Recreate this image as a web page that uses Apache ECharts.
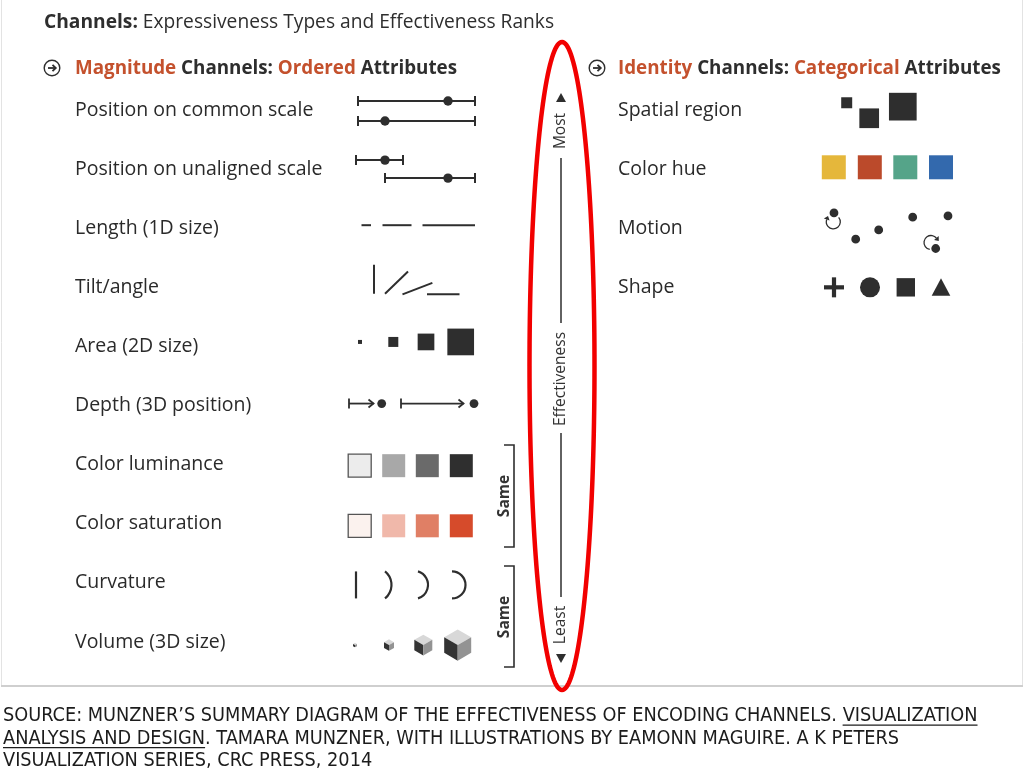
<!DOCTYPE html>
<html>
<head>
<meta charset="utf-8">
<script src="https://cdn.jsdelivr.net/npm/echarts@6/dist/echarts.min.js"></script>
<style>
html, body { margin: 0; padding: 0; background: #fff; }
#chart { width: 1024px; height: 769px; }
</style>
</head>
<body>
<div id="chart"></div>
<script>
// channel names (row labels)
var magnitudeChannels = ['Position on common scale', 'Position on unaligned scale', 'Length (1D size)',
  'Tilt/angle', 'Area (2D size)', 'Depth (3D position)', 'Color luminance', 'Color saturation',
  'Curvature', 'Volume (3D size)'];
var identityChannels = ['Spatial region', 'Color hue', 'Motion', 'Shape'];

// glyph values: [x, row, dy, ...]
var scaleBars = [[13, 0, -9, 130, 103], [13, 0, 11, 130, 40], [11, 1, -9, 58, 40], [40, 1, 9, 130, 103]];
var lengthBars = [[16.5, 2, -3, 26], [37.5, 2, -3, 66.5], [77.5, 2, -3, 130]];
var tiltLines = [[29, 3, 6.5, 90, 29], [40, 3, 6.5, 44, 32], [57.5, 3, 7, 21, 32], [82, 3, 7, 0, 32.5]];
var areaSquares = [[15, 4, -4.5, 4], [48.3, 4, -4.5, 10], [81, 4, -4.5, 16.7], [115.7, 4, -4.5, 26.7]];
var depthArrows = [[4, 5, -2, 28.5, 36.7], [56, 5, -2, 118.5, 129]];
var lumColors = ['#ececec', '#a8a8a8', '#6a6a6a', '#2f2f2f'];
var satColors = ['#fbf2ee', '#f0b8aa', '#e07f65', '#d64b2b'];
var rampSquares = [[14.7, 6, 1, 23, 0], [48.7, 6, 1, 23, 1], [82.3, 6, 1, 23, 2], [116.3, 6, 1, 23, 3],
  [14.7, 7, 2, 23, 0], [48.7, 7, 2, 23, 1], [82.3, 7, 2, 23, 2], [116.3, 7, 2, 23, 3]];
var curveMarks = [[11, 8, 2, 0, 27], [40, 8, 2, 6.5, 27], [73, 8, 2, 10, 27], [107, 8, 2, 13.5, 27]];
var volumeCubes = [[10, 9, 3, 4], [44, 9, 3, 10], [78.3, 9, 3, 18], [112.7, 9, 3, 27]];

var regionSquares = [[31.7, 0, -7.2, 11], [54.2, 0, 8.3, 19.7], [87.8, 0, -3.3, 27.7]];
var hueColors = ['#e5b73b', '#bb4a2b', '#55a489', '#3369ad'];
var hueSquares = [[18.8, 1, -1.8, 24, 0], [54.8, 1, -1.8, 24, 1], [90.3, 1, -1.8, 24, 2], [126, 1, -1.8, 24, 3]];
var motionDots = [[19, 2, -15.3], [40.7, 2, 11], [63.7, 2, 1.7], [97.7, 2, -11], [133, 2, -12.3], [120.7, 2, 20.3]];
var motionSpins = [[18.3, 2, -6.3, 7, -40, 200], [116, 2, 14.3, 7, 100, 320]];
var shapeMarks = [[19, 3, 0, 0], [55, 3, 0, 1], [90.8, 3, 0, 2], [126, 3, 0, 3]];

var captionLines = [
  ['SOURCE: MUNZNER\u2019S SUMMARY DIAGRAM OF THE EFFECTIVENESS OF ENCODING CHANNELS. ', 'VISUALIZATION', ''],
  ['', 'ANALYSIS AND DESIGN', '. TAMARA MUNZNER, WITH ILLUSTRATIONS BY EAMONN MAGUIRE. A K PETERS'],
  ['VISUALIZATION SERIES, CRC PRESS, 2014', '', '']
];

var FONT = '"Open Sans", "Noto Sans", sans-serif';
var CAPTION_FONT = '"Liberation Sans Narrow", "DejaVu Sans Condensed", sans-serif';
var INK = '#2e2e2e';
var ORANGE = '#c4512d';

var chart = echarts.init(document.getElementById('chart'));

function pt(api, x, row, dy) {
  var p = api.coord([x, row]);
  var k = api.size([1, 0])[0];
  return [p[0], p[1] + dy * k];
}
function unit(api) { return api.size([1, 0])[0]; }
function line(x1, y1, x2, y2, w) {
  return { type: 'line', shape: { x1: x1, y1: y1, x2: x2, y2: y2 }, style: { stroke: INK, lineWidth: w || 2 } };
}

function renderScale(params, api) {
  var k = unit(api);
  var a = pt(api, api.value(0), api.value(1), api.value(2));
  var b = pt(api, api.value(3), api.value(1), api.value(2));
  var d = pt(api, api.value(4), api.value(1), api.value(2));
  return { type: 'group', children: [
    line(a[0], a[1], b[0], b[1]),
    line(a[0], a[1] - 5 * k, a[0], a[1] + 5 * k),
    line(b[0], b[1] - 5 * k, b[0], b[1] + 5 * k),
    { type: 'circle', shape: { cx: d[0], cy: d[1], r: 4.7 * k }, style: { fill: INK } }
  ] };
}
function renderLength(params, api) {
  var a = pt(api, api.value(0), api.value(1), api.value(2));
  var b = pt(api, api.value(3), api.value(1), api.value(2));
  return line(a[0], a[1], b[0], b[1]);
}
function renderTilt(params, api) {
  var k = unit(api);
  var a = pt(api, api.value(0), api.value(1), api.value(2));
  var ang = api.value(3) * Math.PI / 180, len = api.value(4) * k;
  return line(a[0], a[1], a[0] + Math.cos(ang) * len, a[1] - Math.sin(ang) * len);
}
function renderSquare(params, api) {
  var k = unit(api);
  var c = pt(api, api.value(0), api.value(1), api.value(2));
  var s = api.value(3) * k;
  return { type: 'rect', shape: { x: c[0] - s / 2, y: c[1] - s / 2, width: s, height: s }, style: { fill: INK } };
}
function renderDepth(params, api) {
  var k = unit(api);
  var a = pt(api, api.value(0), api.value(1), api.value(2));
  var b = pt(api, api.value(3), api.value(1), api.value(2));
  var d = pt(api, api.value(4), api.value(1), api.value(2));
  return { type: 'group', children: [
    line(a[0], a[1], b[0], b[1], 1.8),
    line(a[0], a[1] - 5 * k, a[0], a[1] + 5 * k, 1.8),
    { type: 'polyline', shape: { points: [[b[0] - 5 * k, b[1] - 4 * k], [b[0], b[1]], [b[0] - 5 * k, b[1] + 4 * k]] },
      style: { stroke: INK, lineWidth: 1.8, fill: null } },
    { type: 'circle', shape: { cx: d[0], cy: d[1], r: 4.4 * k }, style: { fill: INK } }
  ] };
}
function rampRender(colors, bordered) {
  return function (params, api) {
    var k = unit(api);
    var c = pt(api, api.value(0), api.value(1), api.value(2));
    var s = api.value(3) * k;
    var ci = api.value(4);
    return { type: 'rect', shape: { x: c[0] - s / 2, y: c[1] - s / 2, width: s, height: s },
      style: { fill: colors[ci], stroke: (bordered && ci === 0) ? '#555' : null, lineWidth: 1.3 } };
  };
}
function renderCurve(params, api) {
  var k = unit(api);
  var c = pt(api, api.value(0), api.value(1), api.value(2));
  var sag = api.value(3) * k, chord = api.value(4) * k;
  if (sag === 0) return line(c[0], c[1] - chord / 2, c[0], c[1] + chord / 2, 2.2);
  var R = (chord * chord / 4 + sag * sag) / (2 * sag);
  var th = Math.asin(Math.min(1, chord / 2 / R));
  return { type: 'arc', shape: { cx: c[0] + sag - R, cy: c[1], r: R, startAngle: -th, endAngle: th, clockwise: true },
    style: { stroke: INK, lineWidth: 2.2, fill: null } };
}
function renderCube(params, api) {
  var k = unit(api);
  var c = pt(api, api.value(0), api.value(1), api.value(2));
  var hw = api.value(3) * k / 2, s = hw / 0.866;
  var T = [c[0], c[1] - s], UR = [c[0] + hw, c[1] - s / 2], LR = [c[0] + hw, c[1] + s / 2],
    B = [c[0], c[1] + s], LL = [c[0] - hw, c[1] + s / 2], UL = [c[0] - hw, c[1] - s / 2], C = [c[0], c[1]];
  return { type: 'group', children: [
    { type: 'polygon', shape: { points: [T, UR, C, UL] }, style: { fill: '#d8d8d8' } },
    { type: 'polygon', shape: { points: [UL, C, B, LL] }, style: { fill: '#333333' } },
    { type: 'polygon', shape: { points: [C, UR, LR, B] }, style: { fill: '#939393' } }
  ] };
}
function renderDot(params, api) {
  var k = unit(api);
  var c = pt(api, api.value(0), api.value(1), api.value(2));
  return { type: 'circle', shape: { cx: c[0], cy: c[1], r: 4.4 * k }, style: { fill: INK } };
}
function renderSpin(params, api) {
  var k = unit(api);
  var c = pt(api, api.value(0), api.value(1), api.value(2));
  var r = api.value(3) * k;
  var a0 = api.value(4) * Math.PI / 180, a1 = api.value(5) * Math.PI / 180;
  var ex = c[0] + Math.cos(a1) * r, ey = c[1] + Math.sin(a1) * r;
  var tx = -Math.sin(a1), ty = Math.cos(a1);      // tangent, clockwise on screen
  var nx = Math.cos(a1), ny = Math.sin(a1);
  var h = 3.8 * k;
  return { type: 'group', children: [
    { type: 'arc', shape: { cx: c[0], cy: c[1], r: r, startAngle: a0, endAngle: a1, clockwise: true },
      style: { stroke: INK, lineWidth: 1.3, fill: null } },
    { type: 'polygon', shape: { points: [[ex + tx * h, ey + ty * h], [ex + nx * h * 0.8, ey + ny * h * 0.8], [ex - nx * h * 0.8, ey - ny * h * 0.8]] },
      style: { fill: INK } }
  ] };
}
function renderShape(params, api) {
  var k = unit(api);
  var c = pt(api, api.value(0), api.value(1), api.value(2));
  var kind = api.value(3);
  if (kind === 0) {
    return { type: 'group', children: [
      { type: 'rect', shape: { x: c[0] - 10 * k, y: c[1] - 2.1 * k, width: 20 * k, height: 4.2 * k }, style: { fill: INK } },
      { type: 'rect', shape: { x: c[0] - 2.1 * k, y: c[1] - 10 * k, width: 4.2 * k, height: 20 * k }, style: { fill: INK } }
    ] };
  }
  if (kind === 1) return { type: 'circle', shape: { cx: c[0], cy: c[1], r: 10 * k }, style: { fill: INK } };
  if (kind === 2) return { type: 'rect', shape: { x: c[0] - 9.2 * k, y: c[1] - 9.2 * k, width: 18.4 * k, height: 18.4 * k }, style: { fill: INK } };
  return { type: 'polygon', shape: { points: [[c[0], c[1] - 9 * k], [c[0] + 9.3 * k, c[1] + 8.5 * k], [c[0] - 9.3 * k, c[1] + 8.5 * k]] }, style: { fill: INK } };
}

function glyphSeries(data, render, gridIndex) {
  return { type: 'custom', xAxisIndex: gridIndex, yAxisIndex: gridIndex, data: data, renderItem: render,
    encode: { x: 0, y: 1 }, silent: true, clip: false };
}

// caption layout: fit the first line to the original width
var measureCtx = document.createElement('canvas').getContext('2d');
function textWidth(str, size) { measureCtx.font = size + 'px ' + CAPTION_FONT; return measureCtx.measureText(str).width; }
var captionSize = 100 * 975 / textWidth(captionLines[0].join(''), 100);
var captionGraphics = [];
captionLines.forEach(function (parts, i) {
  var y = 716 + i * 22.6;
  captionGraphics.push({ type: 'text', x: 3, y: y, silent: true,
    style: { text: parts.join(''), font: captionSize + 'px ' + CAPTION_FONT, fill: '#1c1c1c', verticalAlign: 'middle' } });
  if (parts[1]) {
    var u0 = 3 + textWidth(parts[0], captionSize), u1 = u0 + textWidth(parts[1], captionSize);
    var uy = y + captionSize * 0.46;
    captionGraphics.push({ type: 'line', silent: true, shape: { x1: u0, y1: uy, x2: u1, y2: uy },
      style: { stroke: '#1c1c1c', lineWidth: 1.2 } });
  }
});

function headerIcon(cx, cy) {
  return [
    { type: 'circle', shape: { cx: cx, cy: cy, r: 7.8 }, style: { fill: null, stroke: INK, lineWidth: 1.4 } },
    { type: 'line', shape: { x1: cx - 4, y1: cy, x2: cx + 3.5, y2: cy }, style: { stroke: INK, lineWidth: 1.8 } },
    { type: 'polyline', shape: { points: [[cx + 0.5, cy - 3.2], [cx + 3.8, cy], [cx + 0.5, cy + 3.2]] }, style: { stroke: INK, lineWidth: 1.8, fill: null } }
  ];
}
var headerRich = {
  o: { fontFamily: FONT, fontSize: 18.8, fontWeight: 'bold', fill: ORANGE },
  d: { fontFamily: FONT, fontSize: 18.8, fontWeight: 'bold', fill: INK }
};

function rotatedText(str, x, y, weight) {
  return { type: 'text', x: x, y: y, rotation: Math.PI / 2, silent: true,
    style: { text: str, font: (weight || 'normal') + ' 15.5px ' + FONT, fill: '#333', align: 'center', verticalAlign: 'middle' } };
}

var ellipsePts = [];
for (var i = 0; i <= 180; i++) {
  var t = i / 180 * Math.PI * 2;
  ellipsePts.push([562 + 32.5 * Math.sin(t), 366 - 324 * Math.cos(t)]);
}

var graphics = [
  { type: 'rect', silent: true, shape: { x: 1.5, y: -2, width: 1021, height: 688 }, style: { fill: null, stroke: '#e3e3e3', lineWidth: 1 } },
  { type: 'line', silent: true, shape: { x1: 1, y1: 686, x2: 1023, y2: 686 }, style: { stroke: '#cfcfcf', lineWidth: 2 } },
  { type: 'text', x: 44, y: 23, silent: true,
    style: { text: '{b|Channels: }{n|Expressiveness Types and Effectiveness Ranks}', verticalAlign: 'middle',
      rich: { b: { fontFamily: FONT, fontSize: 19.2, fontWeight: 'bold', fill: INK }, n: { fontFamily: FONT, fontSize: 19.2, fill: INK } } } },
  { type: 'text', x: 75, y: 69, silent: true,
    style: { text: '{o|Magnitude }{d|Channels: }{o|Ordered }{d|Attributes}', verticalAlign: 'middle', rich: headerRich } },
  { type: 'text', x: 618, y: 69, silent: true,
    style: { text: '{o|Identity }{d|Channels: }{o|Categorical }{d|Attributes}', verticalAlign: 'middle', rich: headerRich } },
  // effectiveness axis
  { type: 'polygon', silent: true, shape: { points: [[561, 93], [566, 102], [556, 102]] }, style: { fill: INK } },
  { type: 'polygon', silent: true, shape: { points: [[561, 663], [566, 654], [556, 654]] }, style: { fill: INK } },
  { type: 'line', silent: true, shape: { x1: 561, y1: 158, x2: 561, y2: 323 }, style: { stroke: INK, lineWidth: 1.5 } },
  { type: 'line', silent: true, shape: { x1: 561, y1: 433, x2: 561, y2: 597 }, style: { stroke: INK, lineWidth: 1.5 } },
  rotatedText('Most', 561, 131),
  rotatedText('Effectiveness', 561, 379),
  rotatedText('Least', 561, 625),
  // "Same" brackets
  { type: 'polyline', silent: true, shape: { points: [[504, 445], [514, 445], [514, 547], [504, 547]] }, style: { stroke: INK, lineWidth: 1.6, fill: null } },
  { type: 'polyline', silent: true, shape: { points: [[504, 566], [514, 566], [514, 667], [504, 667]] }, style: { stroke: INK, lineWidth: 1.6, fill: null } },
  rotatedText('Same', 505, 496, 'bold'),
  rotatedText('Same', 505, 617, 'bold'),
  { type: 'polygon', silent: true, shape: { points: ellipsePts }, style: { fill: null, stroke: '#f20000', lineWidth: 4.5 } }
].concat(headerIcon(52, 68), headerIcon(597, 68), captionGraphics);

var labelStyle = { align: 'left', fontFamily: FONT, fontSize: 19.5, color: '#2a2a2a', padding: [5, 0, 0, 0] };

var option = {
  animation: false,
  backgroundColor: '#fff',
  grid: [
    { left: 345, top: 80.4, width: 130, height: 591.2, containLabel: false, outerBoundsMode: 'none' },
    { left: 815, top: 80.4, width: 145, height: 236.5, containLabel: false, outerBoundsMode: 'none' }
  ],
  xAxis: [
    { type: 'value', gridIndex: 0, min: 0, max: 130, show: false },
    { type: 'value', gridIndex: 1, min: 0, max: 145, show: false }
  ],
  yAxis: [
    { type: 'category', gridIndex: 0, data: magnitudeChannels, inverse: true,
      axisLine: { show: false }, axisTick: { show: false }, splitLine: { show: false },
      axisLabel: Object.assign({ margin: 345 - 75 }, labelStyle) },
    { type: 'category', gridIndex: 1, data: identityChannels, inverse: true,
      axisLine: { show: false }, axisTick: { show: false }, splitLine: { show: false },
      axisLabel: Object.assign({ margin: 815 - 618 }, labelStyle) }
  ],
  series: [
    glyphSeries(scaleBars, renderScale, 0),
    glyphSeries(lengthBars, renderLength, 0),
    glyphSeries(tiltLines, renderTilt, 0),
    glyphSeries(areaSquares, renderSquare, 0),
    glyphSeries(depthArrows, renderDepth, 0),
    glyphSeries(rampSquares.slice(0, 4), rampRender(lumColors, true), 0),
    glyphSeries(rampSquares.slice(4), rampRender(satColors, true), 0),
    glyphSeries(curveMarks, renderCurve, 0),
    glyphSeries(volumeCubes, renderCube, 0),
    glyphSeries(regionSquares, renderSquare, 1),
    glyphSeries(hueSquares, rampRender(hueColors, false), 1),
    glyphSeries(motionDots, renderDot, 1),
    glyphSeries(motionSpins, renderSpin, 1),
    glyphSeries(shapeMarks, renderShape, 1)
  ],
  graphic: graphics
};
chart.setOption(option);
</script>
</body>
</html>
